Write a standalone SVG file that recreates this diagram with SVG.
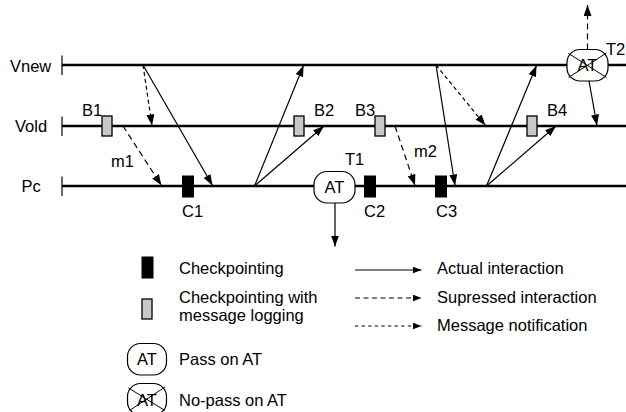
<svg xmlns="http://www.w3.org/2000/svg" width="626" height="412" viewBox="0 0 626 412">
  <defs>
    <marker id="ah" markerUnits="userSpaceOnUse" markerWidth="11" markerHeight="8" refX="11" refY="4" orient="auto">
      <path d="M0,0 L11,4 L0,8 z" fill="#000"/>
    </marker>
    <marker id="ahs" markerUnits="userSpaceOnUse" markerWidth="9" markerHeight="7" refX="9" refY="3.5" orient="auto">
      <path d="M0,0 L9,3.5 L0,7 z" fill="#000"/>
    </marker>
  </defs>
  <style>
    text { font-family: "Liberation Sans", Arial, sans-serif; font-size: 16.5px; fill: #000; }
    .axis { stroke: #000; stroke-width: 2.5; fill: none; }
    .tick { stroke: #000; stroke-width: 1.2; fill: none; }
    .msg { stroke: #000; stroke-width: 1.2; fill: none; marker-end: url(#ah); }
    .sup { stroke-dasharray: 6 4; }
    .note { stroke-dasharray: 4 3; }
    .lmsg { stroke: #000; stroke-width: 1.2; fill: none; marker-end: url(#ahs); }
    .ckpt { fill: #000; stroke: #000; stroke-width: 1; }
    .log { fill: #c8c8c8; stroke: #000; stroke-width: 1.3; }
    .at { fill: #fff; stroke: #000; stroke-width: 1.2; }
    .cross { stroke: #000; stroke-width: 1; fill: none; }
  </style>

  <!-- time lines of the three processes -->
  <g id="timelines">
    <line class="axis" x1="62" y1="65" x2="626" y2="65"/>
    <line class="tick" x1="62" y1="55.5" x2="62" y2="75"/>
    <text x="10" y="71.5">Vnew</text>
    <line class="axis" x1="62" y1="126" x2="626" y2="126"/>
    <line class="tick" x1="62" y1="116.5" x2="62" y2="136"/>
    <text x="15" y="131.5">Vold</text>
    <line class="axis" x1="62" y1="186" x2="626" y2="186"/>
    <line class="tick" x1="62" y1="176.5" x2="62" y2="196"/>
    <text x="21.5" y="191.5">Pc</text>
  </g>

  <!-- interactions -->
  <g id="connectors">
    <line class="msg note" x1="143" y1="65" x2="152" y2="125.5"/>
    <line class="msg" x1="143" y1="65" x2="212.5" y2="185.5"/>
    <line class="msg sup" x1="123" y1="126" x2="161.5" y2="185.5"/>
    <line class="msg" x1="254.5" y1="186" x2="303.5" y2="65.5"/>
    <line class="msg" x1="254.5" y1="186" x2="324" y2="126"/>
    <line class="msg sup" x1="395" y1="126" x2="415" y2="185.5"/>
    <line class="msg" x1="436" y1="65" x2="455" y2="185.5"/>
    <line class="msg note" x1="436" y1="65" x2="485.5" y2="125.5"/>
    <line class="msg" x1="486.5" y1="186" x2="536.5" y2="65.5"/>
    <line class="msg" x1="486.5" y1="186" x2="556" y2="126"/>
    <line class="msg" x1="589" y1="81" x2="597" y2="125.5"/>
    <line class="msg sup" x1="587.5" y1="49.5" x2="587.5" y2="5"/>
    <line class="msg" x1="335" y1="203" x2="335" y2="246.5"/>
  </g>

  <!-- logged checkpoints on Vold -->
  <g id="B1"><rect class="log" x="102" y="116" width="10" height="20"/><text x="82" y="116">B1</text></g>
  <g id="B2"><rect class="log" x="294" y="116" width="10" height="20"/><text x="314" y="116">B2</text></g>
  <g id="B3"><rect class="log" x="375" y="116" width="10" height="20"/><text x="355" y="116">B3</text></g>
  <g id="B4"><rect class="log" x="527" y="116" width="10" height="20"/><text x="547" y="116">B4</text></g>

  <!-- checkpoints on Pc -->
  <g id="C1"><rect class="ckpt" x="182.5" y="176" width="11" height="21"/><text x="182" y="216.5">C1</text></g>
  <g id="C2"><rect class="ckpt" x="364.5" y="176" width="11" height="21"/><text x="364" y="216.5">C2</text></g>
  <g id="C3"><rect class="ckpt" x="435.5" y="176" width="11" height="21"/><text x="436" y="216.5">C3</text></g>

  <!-- message labels -->
  <g id="m1"><text x="111" y="167">m1</text></g>
  <g id="m2"><text x="414" y="157">m2</text></g>

  <!-- acceptance tests -->
  <g id="T1">
    <rect class="at" x="314" y="171.5" width="41" height="31.5" rx="13" ry="13"/>
    <text x="334.5" y="192.5" text-anchor="middle">AT</text>
    <text x="345" y="165">T1</text>
  </g>
  <g id="T2">
    <rect class="at" x="567" y="49.5" width="41" height="31.5" rx="13" ry="13"/>
    <text x="587.5" y="71" text-anchor="middle">AT</text>
    <line class="cross" x1="568.5" y1="53.5" x2="606.5" y2="77.5"/>
    <line class="cross" x1="568.5" y1="77.5" x2="606.5" y2="53"/>
    <text x="606" y="55">T2</text>
  </g>

  <!-- legend -->
  <g id="legend-checkpoint">
    <rect class="ckpt" x="142" y="257" width="11" height="21"/>
    <text x="179" y="274">Checkpointing</text>
  </g>
  <g id="legend-logging">
    <rect class="log" x="142" y="299" width="10" height="20"/>
    <text x="179" y="303">Checkpointing with</text>
    <text x="179" y="321">message logging</text>
  </g>
  <g id="legend-pass">
    <rect class="at" x="127.5" y="343.5" width="39" height="31.5" rx="13" ry="13"/>
    <text x="147" y="365" text-anchor="middle">AT</text>
    <text x="179" y="365">Pass on AT</text>
  </g>
  <g id="legend-nopass">
    <rect class="at" x="127.5" y="383.5" width="39" height="31.5" rx="13" ry="13"/>
    <text x="147" y="405.5" text-anchor="middle">AT</text>
    <line class="cross" x1="128.5" y1="388" x2="165" y2="410.5"/>
    <line class="cross" x1="129.5" y1="410.5" x2="165" y2="387"/>
    <text x="179" y="405.5">No-pass on AT</text>
  </g>
  <g id="legend-actual">
    <line class="lmsg" x1="355" y1="270" x2="421.5" y2="270"/>
    <text x="437" y="274">Actual interaction</text>
  </g>
  <g id="legend-suppressed">
    <line class="lmsg" stroke-dasharray="5 3.5" x1="355" y1="298" x2="421.5" y2="298"/>
    <text x="437" y="302.5">Supressed interaction</text>
  </g>
  <g id="legend-notification">
    <line class="lmsg" stroke-dasharray="3.3 3.3" x1="355" y1="326" x2="421.5" y2="326"/>
    <text x="437" y="331">Message notification</text>
  </g>
</svg>
